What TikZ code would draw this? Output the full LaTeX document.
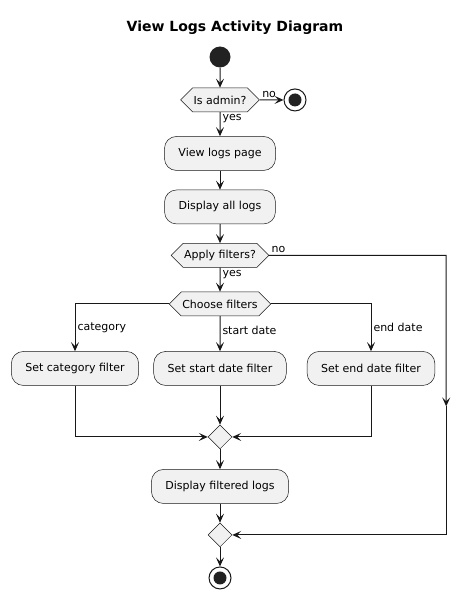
\documentclass[tikz,border=0pt]{standalone}
\usepackage{fontspec}
\setmainfont{DejaVu Sans}
\usetikzlibrary{
  shapes.geometric,
  shapes.symbols,
  positioning,
  calc,
  arrows.meta}
\definecolor{boxcolor}{HTML}{F1F1F1}
\definecolor{linecolor}{HTML}{181818}
\definecolor{dotcolor}{HTML}{222222}
\tikzset{
  initial/.pic = {
    \node (-m) [circle, fill=dotcolor, minimum size=21pt, inner sep=0pt]
    at (0, 0){};
  }
}
\tikzset{
  final/.pic = {
    \node (-m) [circle, draw=linecolor, fill=white, line width=1pt,
    minimum size=22pt, inner sep=0pt] at (0, 0){};
    \fill [dotcolor] (0, 0) circle (6.5pt);
  }
}
\tikzset{
  %% activity : a single action
  activity/.style={
    rectangle,
    rounded corners=12pt,
    draw=linecolor,
    line width=0.5pt,
    fill=boxcolor,
    minimum height=34pt,
    inner xsep=14pt,
    font=\fontsize{11}{13}\selectfont
  },
  %% decision : a question with two or more ways out
  decision/.style={
    signal,
    signal to=east and west,
    signal pointer angle=90,
    draw=linecolor,
    line width=0.5pt,
    fill=boxcolor,
    minimum height=24pt,
    inner xsep=1pt,
    inner ysep=0pt,
    font=\fontsize{11}{13}\selectfont
  },
  %% merge : where the branches come together
  merge/.style={
    diamond,
    aspect=1,
    draw=linecolor,
    line width=0.5pt,
    fill=boxcolor,
    minimum size=24pt,
    inner sep=0pt
  },
  %% guard : text on a connector
  guard/.style={
    inner sep=2pt,
    font=\fontsize{11}{13}\selectfont
  },
  %% flow : a connector
  flow/.style={
    draw=linecolor,
    line width=1pt,
    -{Stealth[length=9pt, width=8pt, inset=4pt]}
  }
}

\begin{document}
\begin{tikzpicture}
  [x=1pt,
  y=-1pt]

  \useasboundingbox (0, 0) rectangle (471, 599);

  %% Grid for orientation. Comment out for final figure!
  % \draw[help lines, green](0, 0) grid[step=50] (471, 599);

  \node (title) at (235, 28) {%
    \fontsize{14}{17}\selectfont\bfseries View Logs Activity Diagram
  };

  %% Main workflow
  \pic (begin) at (220, 57) {initial};

  \node (admin) [below=20pt of begin-m, decision]{%
    Is admin?
  };

  \pic (stop) at ($(admin) + (75, 0)$) {final};

  \node (viewlogs) [below=24pt of admin, activity]{%
    View logs page
  };

  \node (displayall) [below=19pt of viewlogs, activity]{%
    Display all logs
  };

  \node (filters) [below=19pt of displayall, decision]{%
    Apply filters?
  };

  \node (choose) [below=24pt of filters, decision]{%
    Choose filters
  };

  \node (catfilter) [below=35pt of choose, xshift=-145pt, activity]{%
    Set category filter
  };

  \node (startfilter) [below=35pt of choose, activity]{%
    Set start date filter
  };

  \node (endfilter) [below=35pt of choose, xshift=151pt, activity]{%
    Set end date filter
  };

  \node (merge1) [below=39pt of startfilter, merge]{};

  \node (displayfiltered) [below=20pt of merge1, activity]{%
    Display filtered logs
  };

  \node (merge2) [below=19pt of displayfiltered, merge]{};

  \pic (finish) at ($(merge2) + (0, 43)$) {final};

  %% Connections
  \draw [flow] (begin-m) -- (admin);
  \draw [flow] (admin) -- node [guard, pos=0, anchor=south west] {no} (stop-m);
  \draw [flow] (admin) -- node [guard, pos=0, anchor=north west] {yes} (viewlogs);
  \draw [flow] (viewlogs) -- (displayall);
  \draw [flow] (displayall) -- (filters);
  \draw [flow] (filters) -- node [guard, pos=0, anchor=north west] {yes} (choose);

  %% Branches
  \draw [flow] (choose.west) -| node [guard, pos=0.75, anchor=west] {category} (catfilter);
  \draw [flow] (choose) -- node [guard, pos=0.4, anchor=west] {start date} (startfilter);
  \draw [flow] (choose.east) -| node [guard, pos=0.75, anchor=west] {end date} (endfilter);

  \draw [flow] (catfilter) |- (merge1);
  \draw [flow] (startfilter) -- (merge1);
  \draw [flow] (endfilter) |- (merge1);

  \draw [flow] (merge1) -- (displayfiltered);
  \draw [flow] (displayfiltered) -- (merge2);
  \draw [flow] (merge2) -- (finish-m);

  %% No filters: go round
  \coordinate (bypass) at ($(filters.east) + (177, 0)$);
  \coordinate (bypassmid) at ($(bypass)!0.54!(bypass |- merge2)$);
  \draw [flow] (filters.east) -- node [guard, pos=0, anchor=south west] {no}
  (bypass) -- (bypassmid);
  \draw [flow] (bypassmid) |- (merge2);

\end{tikzpicture}
\end{document}
